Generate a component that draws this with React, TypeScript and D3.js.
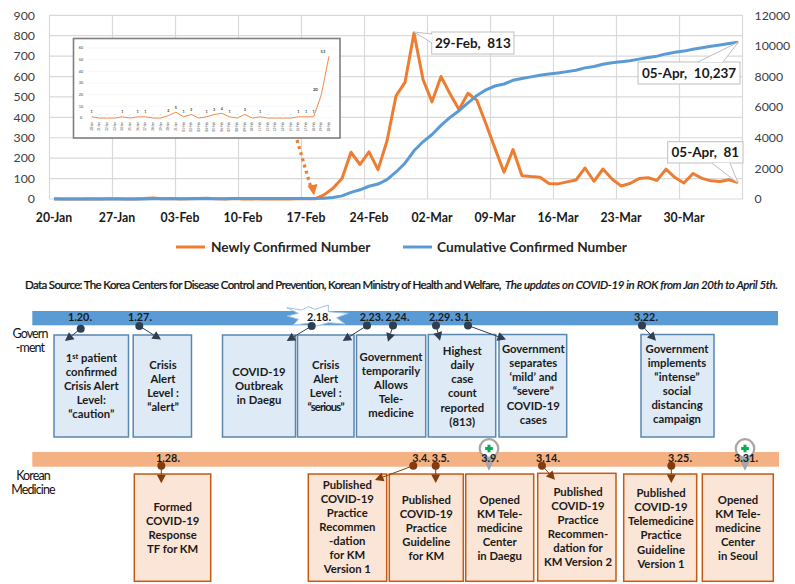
import React from "react";
import * as d3 from "d3";

const startDate = new Date(2020, 0, 20);
const endDate = new Date(2020, 3, 6);
const dates = d3.timeDay.range(startDate, endDate);
const fmt = d3.timeFormat("%d-%b");

const dailyCases = [
  1, 0, 0, 0, 1, 0, 1, 1, 0, 0, 2, 5, 1, 3, 0, 1, 3, 4, 1, 0, 3, 0, 1, 0, 0, 0, 0, 1, 1, 1, 20, 53,
  100, 229, 169, 231, 144, 284, 505, 571, 813, 586, 476, 600, 516, 438, 518, 483, 367, 248, 131, 242,
  114, 110, 107, 76, 74, 84, 93, 152, 87, 147, 98, 64, 76, 100, 104, 91, 146, 105, 78, 125, 101, 89, 86, 94, 81,
];
const cumulativeCases = [
  1, 1, 1, 1, 2, 2, 3, 4, 4, 4, 6, 11, 12, 15, 15, 16, 19, 23, 24, 24, 27, 27, 28, 28, 28, 28, 28, 29, 30, 31, 51, 104,
  204, 433, 602, 833, 977, 1261, 1766, 2337, 3150, 3736, 4212, 4812, 5328, 5766, 6284, 6767, 7134, 7382, 7513, 7755,
  7869, 7979, 8086, 8162, 8236, 8320, 8413, 8565, 8652, 8799, 8897, 8961, 9037, 9137, 9241, 9332, 9478, 9583, 9661, 9786, 9887, 9976, 10062, 10156, 10237,
];
const leftTicks = [0, 100, 200, 300, 400, 500, 600, 700, 800, 900];
const rightTicks = [0, 2000, 4000, 6000, 8000, 10000, 12000];
const insetTicks = [0, 10, 20, 30, 40, 50, 60];
const insetCount = 32;

const FONT = "Lato, 'Open Sans', sans-serif";
const ORANGE = "#ED7D31";
const BLUE = "#5B9BD5";
const NAVY = "#2F3F52";
const BROWN = "#843C0C";

type Box = { x0: number; x1: number; y0: number; y1: number; cx: number; top: number; lines: string[] };
const govBoxes: Box[] = [
  { x0: 54, x1: 128.5, y0: 335, y1: 437, cx: 91.3, top: 358, lines: ["1st patient", "confirmed", "Crisis Alert", "Level:", "“caution”"] },
  { x0: 133.2, x1: 191.5, y0: 335, y1: 437, cx: 163, top: 365.3, lines: ["Crisis", "Alert", "Level :", "“alert”"] },
  { x0: 222.5, x1: 295.5, y0: 335, y1: 437, cx: 259, top: 372.3, lines: ["COVID-19", "Outbreak", "in Daegu"] },
  { x0: 297.5, x1: 354, y0: 335, y1: 437, cx: 325.7, top: 365.3, lines: ["Crisis", "Alert", "Level :", "“serious”"] },
  { x0: 356.5, x1: 425.7, y0: 335, y1: 437, cx: 391, top: 356.7, lines: ["Government", "temporarily", "Allows", "Tele-", "medicine"] },
  { x0: 428.3, x1: 495.7, y0: 334.5, y1: 437, cx: 462.3, top: 351.3, lines: ["Highest", "daily", "case", "count", "reported", "(813)"] },
  { x0: 499, x1: 566.7, y0: 334.5, y1: 437, cx: 533.3, top: 349.3, lines: ["Government", "separates", "‘mild’ and", "“severe”", "COVID-19", "cases"] },
  { x0: 641, x1: 714, y0: 334.5, y1: 437, cx: 677, top: 348.7, lines: ["Government", "implements", "“intense”", "social", "distancing", "campaign"] },
];
const kmBoxes: Box[] = [
  { x0: 134.3, x1: 210.7, y0: 474, y1: 581.3, cx: 172.7, top: 506.7, lines: ["Formed", "COVID-19", "Response", "TF for KM"] },
  { x0: 308.3, x1: 386.7, y0: 474, y1: 581.3, cx: 347.3, top: 485, lines: ["Published", "COVID-19", "Practice", "Recommen", "-dation", "for KM", "Version 1"] },
  { x0: 389.3, x1: 463.3, y0: 474, y1: 581.3, cx: 426.3, top: 499.7, lines: ["Published", "COVID-19", "Practice", "Guideline", "for KM"] },
  { x0: 465.7, x1: 533.7, y0: 474, y1: 581.3, cx: 499.7, top: 499.7, lines: ["Opened", "KM Tele-", "medicine", "Center", "in Daegu"] },
  { x0: 537.7, x1: 616, y0: 473.3, y1: 581, cx: 578, top: 491.7, lines: ["Published", "COVID-19", "Practice", "Recommen-", "dation for", "KM Version 2"] },
  { x0: 623.7, x1: 696.7, y0: 474, y1: 581.3, cx: 661, top: 493.3, lines: ["Published", "COVID-19", "Telemedicine", "Practice", "Guideline", "Version 1"] },
  { x0: 702.3, x1: 773.3, y0: 474, y1: 581.3, cx: 738, top: 499.7, lines: ["Opened", "KM Tele-", "medicine", "Center", "in Seoul"] },
];
type Ev = { label: string; lx: number; dx?: number; dy?: number; ax?: number; ay?: number };
const govEvents: Ev[] = [
  { label: "1.20.", lx: 80, dx: 80.7, dy: 328.7, ax: 65, ay: 341 },
  { label: "1.27.", lx: 140, dx: 139.3, dy: 326, ax: 161, ay: 339.5 },
  { label: "2.18.", lx: 319, dx: 311.7, dy: 326, ax: 286.7, ay: 341 },
  { label: "2.23.", lx: 371.7, dx: 367, dy: 325.5, ax: 342.7, ay: 341 },
  { label: "2.24.", lx: 397.5, dx: 393, dy: 325.5, ax: 388, ay: 341.7 },
  { label: "2.29.", lx: 441, dx: 436, dy: 325.5, ax: 440, ay: 340.7 },
  { label: "3.1.", lx: 463.5, dx: 468, dy: 325.5, ax: 506, ay: 339.5 },
  { label: "3.22.", lx: 646, dx: 642, dy: 325.5, ax: 656, ay: 340.7 },
];
const kmEvents: Ev[] = [
  { label: "1.28.", lx: 168, dx: 161.3, dy: 465.7, ax: 161.3, ay: 483.3 },
  { label: "3.4.", lx: 421, dx: 413.3, dy: 465.7, ax: 375, ay: 480 },
  { label: "3.5.", lx: 440.5, dx: 435.7, dy: 465.7, ax: 435.7, ay: 483 },
  { label: "3.9.", lx: 490 },
  { label: "3.14.", lx: 548, dx: 542, dy: 465.7, ax: 555, ay: 479.7 },
  { label: "3.25.", lx: 680, dx: 671.3, dy: 465.7, ax: 671.3, ay: 483 },
  { label: "3.31.", lx: 746 },
];
const pinXs = [489, 745];
const burst = [860,113,905,120,925,110,945,118,985,105,985,125,1045,130,1010,143,1035,162,985,158,950,168,925,160,880,165,895,148,862,138,895,130];

function Arrow({ e, color }: { e: Ev; color: string }) {
  const dx = e.dx!, dy = e.dy!, ax = e.ax!, ay = e.ay!;
  const a = Math.atan2(ay - dy, ax - dx);
  const L = 8.5, W = 4.5;
  const bx = ax - L * Math.cos(a), by = ay - L * Math.sin(a);
  const px = -Math.sin(a) * W, py = Math.cos(a) * W;
  return (
    <g>
      <line x1={dx} y1={dy} x2={bx} y2={by} stroke={color} strokeWidth={1} />
      <polygon points={`${ax},${ay} ${bx + px},${by + py} ${bx - px},${by - py}`} fill={color} />
      <circle cx={dx} cy={dy} r={4} fill={color} />
    </g>
  );
}

function BoxText({ b }: { b: Box }) {
  return (
    <text textAnchor="middle" fontFamily={FONT} fontWeight={700} fontSize={11.3} fill="#1a1a1a">
      {b.lines.map((l, i) => {
        const y = b.top + i * 14.05 + 4;
        if (l === "1st patient")
          return (
            <tspan key={i} x={b.cx} y={y}>1<tspan dy={-3.5} fontSize={7.5}>st</tspan><tspan dy={3.5}> patient</tspan></tspan>
          );
        return <tspan key={i} x={b.cx} y={y} letterSpacing={l === "“serious”" ? -0.9 : 0}>{l}</tspan>;
      })}
    </text>
  );
}

function Callout({ x0, x1, y0, y1, tip, base, label }: { x0: number; x1: number; y0: number; y1: number; tip: [number, number]; base: [number, number, number, number]; label: string }) {
  return (
    <g>
      <rect x={x0} y={y0} width={x1 - x0} height={y1 - y0} fill="#fff" stroke="#BFBFBF" strokeWidth={1} />
      <polygon points={`${tip[0]},${tip[1]} ${base[0]},${base[1]} ${base[2]},${base[3]}`} fill="#fff" />
      <line x1={tip[0]} y1={tip[1]} x2={base[0]} y2={base[1]} stroke="#BFBFBF" />
      <line x1={tip[0]} y1={tip[1]} x2={base[2]} y2={base[3]} stroke="#BFBFBF" />
      <text x={(x0 + x1) / 2} y={(y0 + y1) / 2 + 4.8} textAnchor="middle" fontFamily={FONT} fontWeight={700} fontSize={13.5} fill="#1a1a1a" xmlSpace="preserve">{label}</text>
    </g>
  );
}

export default function App() {
  const x = d3.scaleBand<number>().domain(d3.range(dates.length)).range([49.5, 49.5 + 9 * dates.length]);
  const px = (i: number) => x(i)! + x.bandwidth() / 2;
  const y = d3.scaleLinear().domain([0, 900]).range([199, 15.3]);
  const y2 = d3.scaleLinear().domain([0, 12000]).range([199, 15.3]);
  const lineL = d3.line<number>().x((_, i) => px(i)).y((d) => y(d));
  const lineR = d3.line<number>().x((_, i) => px(i)).y((d) => y2(d));
  const xTickIdx = d3.range(0, dates.length, 7);

  const insetValues = dailyCases.slice(0, insetCount);
  const ix = d3.scalePoint<number>().domain(d3.range(insetCount)).range([91.7, 329]);
  const iy = d3.scaleLinear().domain([0, 60]).range([118, 48]);
  const insetLine = d3.line<number>().x((_, i) => ix(i)!).y((d) => iy(d));

  return (
    <svg width={795} height={584} viewBox="0 0 795 584" style={{ position: "absolute", left: 0, top: 0, display: "block", background: "#fff" }}>
      {/* grid */}
      <g stroke="#D9D9D9" strokeWidth={1.2}>
        {leftTicks.map((t) => <line key={t} x1={49.5} x2={742.5} y1={y(t)} y2={y(t)} />)}
        {xTickIdx.map((i) => <line key={i} x1={x(i)!} x2={x(i)!} y1={15.3} y2={199} />)}
        <line x1={742.5} x2={742.5} y1={15.3} y2={199} />
      </g>
      {/* axes labels */}
      <g fontFamily={FONT} fontSize={12.3} fill="#404040">
        {leftTicks.map((t) => <text key={t} x={35} y={y(t) + 4.3} textAnchor="end">{t}</text>)}
        {rightTicks.map((t) => <text key={t} x={754.5} y={y2(t) + 4.3}>{t}</text>)}
      </g>
      <g fontFamily={FONT} fontSize={12.3} fontWeight={700} fill="#1a1a1a">
        {xTickIdx.map((i) => <text key={i} x={px(i)} y={221.5} textAnchor="middle">{fmt(dates[i])}</text>)}
      </g>
      {/* series */}
      <path d={lineL(dailyCases)!} fill="none" stroke={ORANGE} strokeWidth={3} strokeLinejoin="round" />
      <path d={lineR(cumulativeCases)!} fill="none" stroke={BLUE} strokeWidth={3} strokeLinejoin="round" />

      {/* inset */}
      <rect x={73.5} y={38.5} width={266.5} height={99.5} fill="#fff" stroke="#7F7F7F" strokeWidth={1.6} />
      <g stroke="#F2F2F2" strokeWidth={0.6}>
        {insetTicks.map((t) => <line key={t} x1={88} x2={333} y1={iy(t)} y2={iy(t)} />)}
      </g>
      <g fontFamily={FONT} fontSize={3.8} fill="#404040">
        {insetTicks.map((t) => <text key={t} x={81} y={iy(t) + 1.3} textAnchor="middle">{t}</text>)}
        {insetValues.map((v, i) => (
          <text key={i} x={ix(i)!} y={iy(v) - 3.5} dx={i >= insetCount - 2 ? -6 : 0} textAnchor="middle" fontWeight={700} fontSize={v >= 20 ? 4.2 : 3.8}>{v === 0 ? "." : v}</text>
        ))}
        {insetValues.map((_, i) => (
          <text key={i} transform={`translate(${ix(i)! + 1},${122}) rotate(-90)`} textAnchor="end" fontSize={3}>{fmt(dates[i])}</text>
        ))}
      </g>
      <path d={insetLine(insetValues)!} fill="none" stroke={ORANGE} strokeWidth={0.9} />

      {/* dotted arrow */}
      <line x1={297} y1={140} x2={310.5} y2={186} stroke={ORANGE} strokeWidth={3.2} strokeDasharray="3 3.4" />
      <polygon points="314,195.5 307.5,186 317.5,184" fill={ORANGE} />

      {/* callouts */}
      <Callout x0={431.7} x1={514} y0={32} y1={54} tip={[414, 32]} base={[432, 34, 432, 43]} label="29-Feb,  813" />
      <Callout x0={638} x1={740} y0={62} y1={84} tip={[738.5, 42]} base={[698, 62, 723, 62]} label="05-Apr,  10,237" />
      <Callout x0={667.7} x1={743} y0={141.7} y1={163} tip={[738, 183]} base={[711.7, 163, 730, 163]} label="05-Apr,  81" />

      {/* legend */}
      <line x1={176} x2={205} y1={247} y2={247} stroke={ORANGE} strokeWidth={3} />
      <text x={211} y={251.8} fontFamily={FONT} fontWeight={700} fontSize={13.7} fill="#262626">Newly Confirmed Number</text>
      <line x1={403} x2={432} y1={247} y2={247} stroke={BLUE} strokeWidth={3} />
      <text x={437} y={251.8} fontFamily={FONT} fontWeight={700} fontSize={13.7} fill="#262626">Cumulative Confirmed Number</text>

      {/* source */}
      <text x={25} y={288.8} fontFamily={FONT} fontSize={11.5} fontWeight={500} fill="#111" stroke="#111" strokeWidth={0.2} letterSpacing={-0.65}>Data Source: The Korea Centers for Disease Control and Prevention, Korean Ministry of Health and Welfare,</text>
      <text x={505} y={288.8} fontFamily={FONT} fontSize={11.5} fontStyle="italic" fontWeight={500} fill="#111" stroke="#111" strokeWidth={0.2} letterSpacing={-0.37}>The updates on COVID-19 in ROK from Jan 20th to April 5th.</text>

      {/* timeline bars */}
      <rect x={32.3} y={311} width={745.7} height={14.3} fill={BLUE} />
      <rect x={32.3} y={452} width={746.7} height={14.7} fill="#F4B183" />

      {/* burst */}
      <polygon points={burst.map((v, i) => (i % 2 === 0 ? v / 3 : v / 3 + 270)).join(" ")} fill="#fff" stroke="#9DC3E6" strokeWidth={1} />

      {/* side labels */}
      <g fontFamily={FONT} fontSize={12.5} fill="#111" textAnchor="middle" letterSpacing={-0.9}>
        <text x={30} y={337.5}>Govern</text>
        <text x={30} y={352}>-ment</text>
        <text x={33} y={480}>Korean</text>
        <text x={33} y={494}>Medicine</text>
      </g>

      {/* boxes */}
      {govBoxes.map((b, i) => (
        <g key={i}>
          <rect x={b.x0} y={b.y0} width={b.x1 - b.x0} height={b.y1 - b.y0} fill="#DEEAF6" stroke="#5A87AE" strokeWidth={1.5} />
          <BoxText b={b} />
        </g>
      ))}
      {kmBoxes.map((b, i) => (
        <g key={i}>
          <rect x={b.x0} y={b.y0} width={b.x1 - b.x0} height={b.y1 - b.y0} fill="#FBE5D6" stroke="#C55A11" strokeWidth={1.5} />
          <BoxText b={b} />
        </g>
      ))}

      {/* pins */}
      {pinXs.map((cx) => (
        <g key={cx}>
          <polygon points={`${cx - 6},458 ${cx + 6},458 ${cx},471`} fill="#A6A6A6" />
          <circle cx={cx} cy={448.5} r={9.3} fill="#fff" stroke="#A6A6A6" strokeWidth={2.2} />
          <rect x={cx - 3.8} y={447} width={7.6} height={3} fill="#00B050" />
          <rect x={cx - 1.5} y={444.7} width={3} height={7.6} fill="#00B050" />
        </g>
      ))}

      {/* events */}
      {govEvents.map((e) => <Arrow key={e.label} e={e} color={NAVY} />)}
      {kmEvents.filter((e) => e.dx !== undefined).map((e) => <Arrow key={e.label} e={e} color={BROWN} />)}
      <g fontFamily={FONT} fontWeight={700} fontSize={10.8} fill="#1a1a1a" textAnchor="middle">
        {govEvents.map((e) => <text key={e.label} x={e.lx} y={321.2}>{e.label}</text>)}
        {kmEvents.map((e) => <text key={e.label} x={e.lx} y={462.3}>{e.label}</text>)}
      </g>
    </svg>
  );
}
